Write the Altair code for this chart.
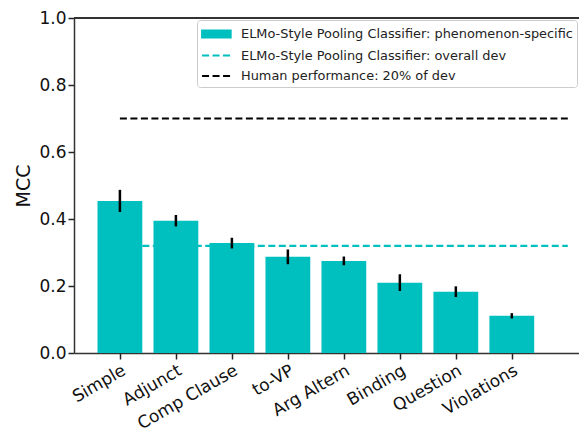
import json
import altair as alt
import pandas as pd

categories = ["Simple", "Adjunct", "Comp Clause", "to-VP", "Arg Altern", "Binding", "Question", "Violations"]
mcc = [0.454, 0.395, 0.328, 0.287, 0.275, 0.210, 0.183, 0.111]
err = [0.033, 0.017, 0.016, 0.022, 0.013, 0.025, 0.016, 0.008]

S1 = "ELMo-Style Pooling Classifier: phenomenon-specific"
S2 = "ELMo-Style Pooling Classifier: overall dev"
S3 = "Human performance: 20% of dev"
series = [S1, S2, S3]
overall_dev = 0.32
human = 0.70
line_series = [S2, S3]
line_values = [overall_dev, human]
line_start = [0.4, 0.0]
line_end = [8.0, 8.0]

TEAL = "#00bfbf"
FONT = "DejaVu Sans"

bars = pd.DataFrame({"cat": categories, "idx": list(range(len(categories))), "mcc": mcc, "err": err, "series": S1})
lines = pd.DataFrame({"series": line_series, "y": line_values, "xs": line_start, "xe": line_end})

xscale = alt.Scale(domain=[-0.82, 8.2], nice=False, zero=False)
yscale = alt.Scale(domain=[0, 1], nice=False)
color_scale = alt.Scale(domain=series, range=[TEAL, TEAL, "#000000"])
dash_scale = alt.Scale(domain=series, range=[[1, 0], [7, 3.5], [7, 3.5]])

label_expr = json.dumps(categories) + "[datum.value]"

RECT = "M-1,-0.4H2.2V0.4H-1Z"
LINE = "M-1,0H2.2"

legend = alt.Legend(
    title=None, orient="top-right", offset=2, padding=4,
    fillColor="white", strokeColor="#cccccc", cornerRadius=3,
    labelFont=FONT, labelFontSize=12.9, labelColor="#222222", labelOffset=20,
    labelLimit=0,
    symbolSize=320, symbolStrokeWidth=2, rowPadding=3.5,
    symbolType={"expr": "datum.value === '" + S1 + "' ? '" + RECT + "' : '" + LINE + "'"},
    symbolStrokeColor={"expr": "datum.value === '" + S3 + "' ? '#000000' : '" + TEAL + "'"},
    symbolFillColor={"expr": "datum.value === '" + S1 + "' ? '" + TEAL + "' : 'transparent'"},
)

bar_layer = alt.Chart(bars).transform_calculate(
    x0="datum.idx - 0.4", x1="datum.idx + 0.4"
).mark_bar(opacity=1).encode(
    x=alt.X("x0:Q", scale=xscale, title=None,
            axis=alt.Axis(values=list(range(len(categories))), labelExpr=label_expr,
                          labelAngle=-30, labelAlign="right", labelBaseline="top",
                          labelOverlap=False, labelBound=False,
                          labelFontSize=17, labelFont=FONT, labelColor="#111111",
                          labelPadding=3, tickSize=6, tickWidth=1.5, tickColor="#222222",
                          domainColor="#333333", domainWidth=1.5, grid=False)),
    x2="x1:Q",
    y=alt.Y("mcc:Q", scale=yscale, title="MCC",
            axis=alt.Axis(values=[0, 0.2, 0.4, 0.6, 0.8, 1.0], format=".1f",
                          labelFontSize=17, labelFont=FONT, labelColor="#111111",
                          titleFont=FONT, titleFontSize=19, titleFontWeight="normal",
                          titleColor="#111111", titlePadding=5,
                          tickSize=6, tickWidth=1.5, tickColor="#222222",
                          domainColor="#333333", domainWidth=1.5, grid=False)),
    y2=alt.datum(0),
    color=alt.Color("series:N", scale=color_scale, legend=legend),
)

err_layer = alt.Chart(bars).transform_calculate(
    lo="datum.mcc - datum.err", hi="datum.mcc + datum.err"
).mark_rule(color="black", strokeWidth=2.5).encode(
    x=alt.X("idx:Q", scale=xscale),
    y=alt.Y("lo:Q", scale=yscale),
    y2="hi:Q",
)

line_layer = alt.Chart(lines).mark_rule(strokeWidth=2.2).encode(
    x=alt.X("xs:Q", scale=xscale),
    x2="xe:Q",
    y=alt.Y("y:Q", scale=yscale),
    color=alt.Color("series:N", scale=color_scale, legend=legend),
    strokeDash=alt.StrokeDash("series:N", scale=dash_scale, legend=legend),
)

top_spine = alt.Chart(bars).mark_rule(color="#333333", strokeWidth=1.5).encode(
    x=alt.datum(-0.82, scale=xscale),
    x2=alt.datum(8.2),
    y=alt.datum(1.0, scale=yscale),
)

chart = alt.layer(bar_layer, line_layer, err_layer, top_spine).properties(
    width=505, height=335,
    autosize=alt.AutoSizeParams(type="none"),
    padding={"left": 66, "top": 10, "right": 0, "bottom": 80},
).configure_view(stroke=None)

chart.save("out.html", embed_options={"renderer": "svg", "actions": False})
